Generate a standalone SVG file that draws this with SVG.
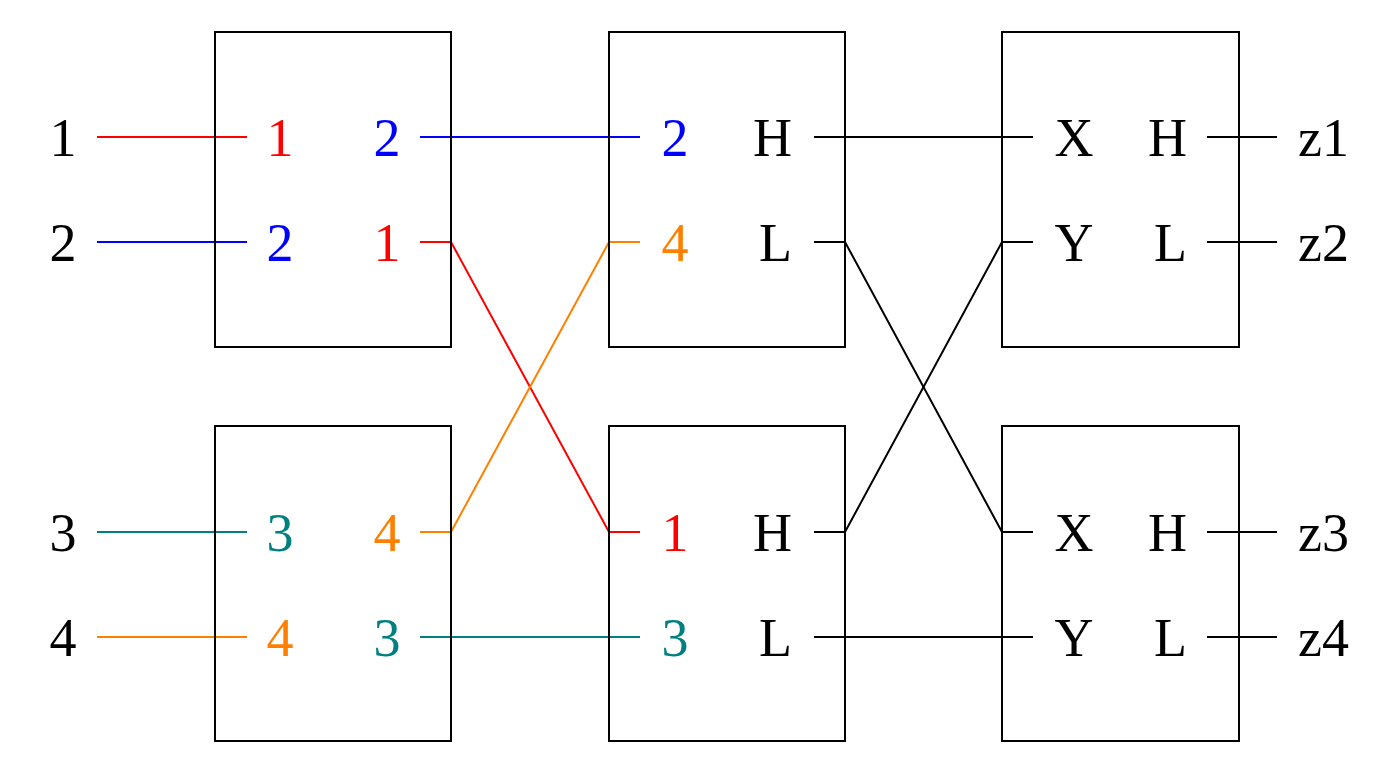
<svg xmlns="http://www.w3.org/2000/svg" width="1400" height="774" viewBox="0 0 1400 774">
<style>
.box{fill:none;stroke:#000;stroke-width:2}
.w{fill:none;stroke-width:2;stroke-linejoin:miter}
text{font-family:"Liberation Serif","DejaVu Serif",serif;font-size:54px}
.c{text-anchor:middle}
.r{text-anchor:end}
.red{fill:#ff0000}.blue{fill:#0000ff}.teal{fill:#008080}.orange{fill:#ff8000}.k{fill:#000}
</style>
<rect width="1400" height="774" fill="#fff"/>
<g id="connectors">
<path class="w" stroke="#ff0000" d="M97,137H247"/>
<path class="w" stroke="#0000ff" d="M97,242H247"/>
<path class="w" stroke="#008080" d="M97,532H247"/>
<path class="w" stroke="#ff8000" d="M97,637H247"/>
<path class="w" stroke="#0000ff" d="M420,137H640"/>
<path class="w" stroke="#ff0000" d="M420,242H451L609,532H640"/>
<path class="w" stroke="#ff8000" d="M420,532H451L609,242H640"/>
<path class="w" stroke="#008080" d="M420,637H640"/>
<path class="w" stroke="#000" d="M814,137H1033"/>
<path class="w" stroke="#000" d="M814,242H845L1002,532H1033"/>
<path class="w" stroke="#000" d="M814,532H845L1002,242H1033"/>
<path class="w" stroke="#000" d="M814,637H1033"/>
<path class="w" stroke="#000" d="M1207,137H1277M1207,242H1277M1207,532H1277M1207,637H1277"/>
</g>
<g id="inputs">
<text class="c k" x="63" y="156">1</text>
<text class="c k" x="63" y="261">2</text>
<text class="c k" x="63" y="551">3</text>
<text class="c k" x="63" y="656">4</text>
</g>
<g id="sw1">
<rect class="box" x="215" y="32" width="236" height="315"/>
<text class="c red" x="280" y="156">1</text>
<text class="c blue" x="280" y="261">2</text>
<text class="c blue" x="387" y="156">2</text>
<text class="c red" x="387" y="261">1</text>
</g>
<g id="sw2">
<rect class="box" x="215" y="426" width="236" height="315"/>
<text class="c teal" x="280" y="551">3</text>
<text class="c orange" x="280" y="656">4</text>
<text class="c orange" x="387" y="551">4</text>
<text class="c teal" x="387" y="656">3</text>
</g>
<g id="cmp1">
<rect class="box" x="609" y="32" width="236" height="315"/>
<text class="c blue" x="675" y="156">2</text>
<text class="c orange" x="675" y="261">4</text>
<text class="r k" x="792" y="156">H</text>
<text class="r k" x="792" y="261">L</text>
</g>
<g id="cmp2">
<rect class="box" x="609" y="426" width="236" height="315"/>
<text class="c red" x="675" y="551">1</text>
<text class="c teal" x="675" y="656">3</text>
<text class="r k" x="792" y="551">H</text>
<text class="r k" x="792" y="656">L</text>
</g>
<g id="cmp3">
<rect class="box" x="1002" y="32" width="237" height="315"/>
<text class="c k" x="1074" y="156">X</text>
<text class="c k" x="1074" y="261">Y</text>
<text class="r k" x="1187" y="156">H</text>
<text class="r k" x="1187" y="261">L</text>
</g>
<g id="cmp4">
<rect class="box" x="1002" y="426" width="237" height="315"/>
<text class="c k" x="1074" y="551">X</text>
<text class="c k" x="1074" y="656">Y</text>
<text class="r k" x="1187" y="551">H</text>
<text class="r k" x="1187" y="656">L</text>
</g>
<g id="outputs">
<text class="k" x="1298" y="156">z1</text>
<text class="k" x="1298" y="261">z2</text>
<text class="k" x="1298" y="551">z3</text>
<text class="k" x="1298" y="656">z4</text>
</g>
</svg>
